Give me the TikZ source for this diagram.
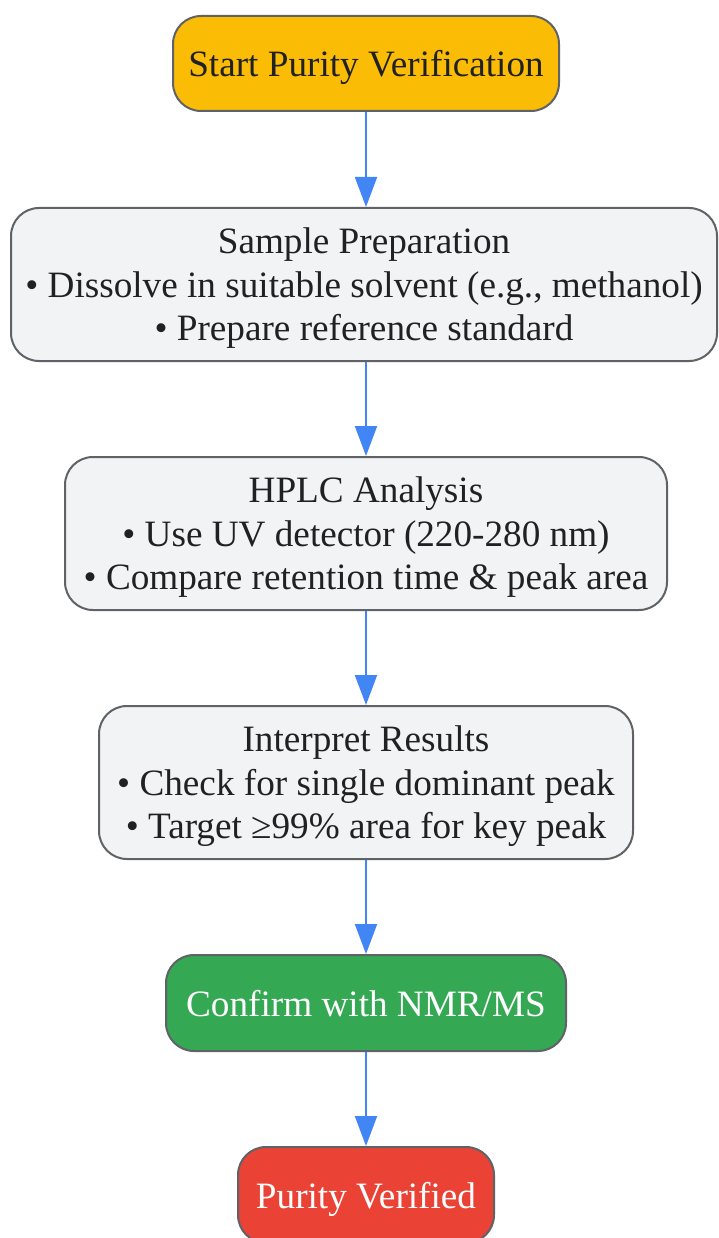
\documentclass[tikz,border=0pt]{standalone}
\usepackage{fontspec}
\setmainfont{Liberation Serif}
\usetikzlibrary{arrows.meta}
\definecolor{bordergrey}{HTML}{5F6368}
\definecolor{txt}{HTML}{202124}
\definecolor{boxgrey}{HTML}{F1F3F4}
\definecolor{gyellow}{HTML}{FBBC05}
\definecolor{ggreen}{HTML}{34A853}
\definecolor{gred}{HTML}{EA4335}
\definecolor{gblue}{HTML}{4285F4}
\tikzset{
  box/.style={draw=bordergrey, line width=2pt, rounded corners=28pt, align=center,
    inner sep=0pt, text=txt, text depth=0pt, font=\fontsize{37.2}{43.5}\selectfont},
  arr/.style={draw=gblue, line width=2pt, -{Triangle[width=22pt,length=30pt]}}
}
\begin{document}
\begin{tikzpicture}[x=1pt,y=-1pt]
\useasboundingbox (0,0) rectangle (718,1238);
\node[box, fill=gyellow, minimum width=386pt, minimum height=95pt] (start) at (366,63.5) {Start Purity Verification};
\node[box, fill=boxgrey, minimum width=706pt, minimum height=153pt] (prep) at (364,284.5)
  {Sample Preparation\\ • Dissolve in suitable solvent (e.g., methanol)\\ • Prepare reference standard};
\node[box, fill=boxgrey, minimum width=602pt, minimum height=153pt] (hplc) at (366,533.5)
  {HPLC Analysis\\ • Use UV detector (220-280 nm)\\ • Compare retention time \& peak area};
\node[box, fill=boxgrey, minimum width=534pt, minimum height=153pt] (interp) at (366,782.5)
  {Interpret Results\\ • Check for single dominant peak\\ • Target ≥99\% area for key peak};
\node[box, fill=ggreen, text=white, minimum width=400pt, minimum height=96pt] (confirm) at (366,1003)
  {Confirm with NMR/MS};
\node[box, fill=gred, text=white, minimum width=256pt, minimum height=96pt] (done) at (366,1195)
  {Purity Verified};
\draw[arr] (start.south) -- (start.south |- prep.north);
\draw[arr] (prep.south -| hplc.north) -- (hplc.north);
\draw[arr] (hplc.south) -- (interp.north);
\draw[arr] (interp.south) -- (confirm.north);
\draw[arr] (confirm.south) -- (done.north);
\end{tikzpicture}
\end{document}
